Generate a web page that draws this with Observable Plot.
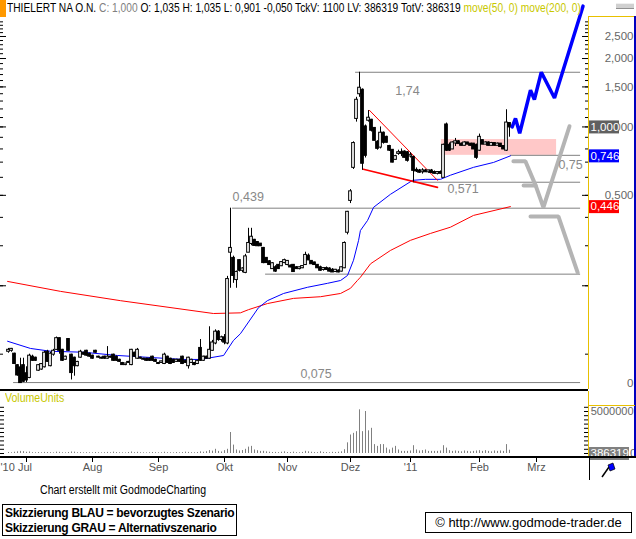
<!DOCTYPE html>
<html><head><meta charset="utf-8">
<script src="https://cdn.jsdelivr.net/npm/d3@7"></script>
<script src="https://cdn.jsdelivr.net/npm/@observablehq/plot@0.6"></script>
<style>
body{margin:0;background:#fff;}
#wrap{position:relative;width:636px;height:539px;overflow:hidden;font-family:"Liberation Sans",Arial,sans-serif;background:#fff;color:#000}
.a{position:absolute;white-space:nowrap}
svg{position:absolute;left:0}
</style></head><body><div id="wrap"></div>
<script>
// ---------- DATA ----------
const open = [
.103,.104,.100,.089,.087,.089,.082,.079,.097,.096,
.085,.086,.088,.102,.089,.100,.105,.117,.104,.095,
.116,.099,.096,.089,.097,.101,.103,.100,.098,.103,
.097,.096,.097,.096,.097,.099,.097,.094,.091,.090,
.092,.090,.101,.096,.096,.095,.095,.095,.097,.094,
.091,.092,.091,.097,.095,.094,.093,.094,.097,.093,
.089,.092,.091,.091,.106,.094,.097,.096,.104,.112,
.125,.116,.118,.112,.281,.264,.213,.258,.234,.229,
.281,.307,.317,.310,.305,.292,.264,.255,.238,.240,
.246,.245,.253,.248,.244,.246,.240,.238,.240,.248,
.270,.256,.252,.246,.240,.236,.238,.237,.234,.231,
.232,.232,.240,.344,.475,.664,1.09,1.40,1.45,1.00,
1.07,1.07,.985,.856,.815,.938,.900,.820,.789,.720,
.765,.770,.775,.770,.745,.735,.644,.640,.635,.640,
.635,.640,.630,.625,.630,.600,1.02,.830,.800,.850,
.860,.840,.830,.850,.840,.840,.830,.790,.870,.840,
.850,.830,.845,.830,.840,.820,.790,1.035];
const close = [
.104,.105,.091,.081,.075,.076,.077,.098,.094,.094,
.089,.090,.101,.093,.100,.103,.117,.104,.094,.097,
.104,.083,.089,.092,.102,.100,.099,.098,.096,.102,
.097,.096,.096,.097,.097,.094,.094,.093,.090,.0905,
.092,.104,.098,.104,.096,.095,.094,.094,.094,.093,
.091,.0925,.099,.092,.091,.092,.094,.093,.091,.092,
.096,.094,.090,.093,.094,.097,.096,.104,.112,.125,
.116,.118,.113,.213,.292,.222,.229,.234,.237,.268,
.307,.327,.301,.300,.300,.253,.253,.248,.250,.232,
.238,.253,.258,.256,.242,.231,.238,.240,.243,.272,
.260,.250,.248,.240,.234,.238,.236,.232,.230,.234,
.230,.240,.307,.421,.518,.845,1.31,1.48,.692,.750,
1.092,.967,.873,.805,.938,.856,.856,.790,.700,.740,
.770,.765,.735,.713,.750,.644,.640,.632,.640,.635,
.640,.630,.625,.630,.625,.830,.790,.790,.850,.860,
.845,.830,.850,.840,.830,.800,.735,.900,.840,.850,
.830,.845,.830,.840,.820,.800,1.040,1.000];
const high = [
.106,.106,.101,.090,.096,.096,.088,.100,.099,.097,
.090,.091,.103,.104,.102,.105,.119,.118,.105,.098,
.117,.100,.097,.093,.104,.102,.104,.101,.099,.104,
.098,.097,.098,.108,.098,.100,.098,.095,.092,.091,
.093,.105,.102,.106,.097,.096,.096,.096,.098,.095,
.092,.093,.101,.098,.096,.095,.095,.095,.098,.094,
.097,.095,.092,.094,.116,.098,.098,.132,.115,.128,
.127,.120,.122,.220,.439,.270,.232,.260,.240,.275,
.358,.358,.320,.312,.306,.295,.266,.258,.253,.245,
.248,.255,.262,.258,.247,.248,.243,.242,.245,.281,
.276,.258,.254,.248,.244,.240,.242,.240,.238,.236,
.235,.242,.312,.425,.530,.860,1.35,1.74,1.47,1.02,
1.18,1.08,.990,.870,1.00,.950,.910,.830,.795,.750,
.790,.800,.785,.780,.770,.740,.660,.650,.655,.650,
.645,.650,.640,.635,.640,.840,1.04,.850,.860,.890,
.870,.850,.860,.855,.845,.845,.840,.930,.875,.860,
.860,.855,.850,.850,.845,.825,1.19,1.035];
const low = [
.101,.102,.090,.080,.075,.075,.075,.078,.093,.093,
.084,.085,.087,.092,.088,.098,.104,.100,.093,.094,
.103,.077,.080,.088,.096,.099,.098,.097,.095,.101,
.096,.095,.095,.095,.096,.093,.093,.092,.090,.089,
.091,.089,.097,.095,.095,.094,.093,.093,.093,.092,
.090,.091,.090,.091,.090,.091,.092,.092,.090,.091,
.086,.091,.089,.090,.093,.093,.095,.095,.103,.110,
.114,.113,.110,.110,.195,.205,.195,.230,.228,.226,
.280,.300,.300,.299,.298,.250,.252,.246,.238,.229,
.236,.243,.250,.245,.240,.230,.236,.235,.238,.246,
.258,.249,.246,.238,.232,.232,.234,.230,.229,.229,
.228,.230,.238,.335,.460,.650,1.05,1.35,.644,.730,
1.05,.950,.870,.790,.800,.840,.850,.780,.695,.715,
.750,.740,.730,.700,.730,.571,.630,.625,.620,.630,
.625,.625,.620,.615,.620,.600,.780,.780,.795,.820,
.840,.825,.825,.835,.825,.795,.720,.780,.835,.835,
.825,.825,.825,.830,.815,.795,.780,.901];
const volume = [
120e3,90e3,150e3,200e3,250e3,220e3,150e3,180e3,100e3,90e3,
110e3,90e3,130e3,120e3,100e3,80e3,160e3,140e3,90e3,80e3,
120e3,180e3,160e3,90e3,110e3,80e3,100e3,90e3,80e3,120e3,
90e3,80e3,100e3,130e3,90e3,160e3,110e3,90e3,80e3,70e3,
120e3,180e3,100e3,140e3,90e3,80e3,70e3,90e3,120e3,100e3,
80e3,90e3,150e3,100e3,90e3,80e3,120e3,90e3,110e3,160e3,
130e3,100e3,90e3,120e3,200e3,150e3,220e3,350e3,280e3,500e3,
250e3,180e3,340e3,500e3,2500e3,1000e3,420e3,300e3,350e3,500e3,
760e3,850e3,420e3,330e3,250e3,260e3,200e3,150e3,120e3,130e3,
100e3,150e3,200e3,120e3,110e3,160e3,100e3,90e3,130e3,260e3,
200e3,150e3,110e3,100e3,210e3,130e3,110e3,90e3,140e3,120e3,
150e3,200e3,450e3,1270e3,2200e3,2400e3,2600e3,5200e3,2600e3,5000e3,
2700e3,3000e3,1060e3,850e3,1060e3,1060e3,640e3,420e3,640e3,850e3,
420e3,250e3,250e3,250e3,300e3,930e3,420e3,300e3,340e3,420e3,
250e3,250e3,250e3,250e3,300e3,930e3,640e3,340e3,250e3,300e3,
250e3,200e3,300e3,250e3,200e3,250e3,300e3,340e3,250e3,340e3,
250e3,200e3,300e3,250e3,300e3,250e3,1060e3,386319];

const ma50Day = [-0.3,7.3,14,25,36.3,47.3,58.3,64,71.7,75,77.3,83.3,86.3,91.7,99.7,106.3,110.7,113,115,116.7,117.3,119.7,121.7,127.3,134.7,139,144,147.3,155,161.7,167.3];
const ma50Val = [.114,.106,.103,.102,.0987,.0967,.0948,.0948,.0987,.115,.123,.160,.172,.185,.197,.205,.211,.222,.259,.317,.350,.388,.443,.505,.582,.588,.588,.613,.664,.698,.746];
const ma200Day = [-0.3,17.3,37.3,68.3,77.3,80,86.3,95,104,110.7,114,116.3,117.3,120.7,127.3,134,140.7,147.3,155,167.3];
const ma200Val = [.209,.189,.172,.151,.152,.157,.167,.176,.179,.185,.195,.211,.218,.250,.286,.317,.340,.362,.408,.446];

const levelVal   = [1.74, 0.439, 0.571, 0.75, 0.225, 0.075];
const levelStart = [115.7, 74.7, 135, 167.3, 85.7, 1.7];
const levelEnd   = [190.7, 190.7, 190.7, 190.7, 190.7, 190.7];
const levelText  = ["1,74", "0,439", "0,571", "0,75", "", "0,075"];
const levelTextDay = [133, 74.7, 146.3, 183.3, 0, 97.3];

const zoneDay = [144.3, 182.7];
const zoneVal = [0.75, 0.88];

const trendUpperDay = [120.3, 143], trendUpperVal = [1.184, 0.582];
const trendLowerDay = [118.3, 143], trendLowerVal = [0.651, 0.542];

const blueDay = [167.9, 169, 170.4, 174, 175.3, 177.6, 182, 191.5];
const blueVal = [1.0, 1.09, 0.938, 1.45, 1.32, 1.74, 1.34, 3.4];
const grayPaths = [
  {day: [168.3, 172.3, 175.7], val: [0.706, 0.706, 0.553]},
  {day: [171.7, 175.7, 178.3, 187], val: [0.553, 0.553, 0.443, 1.007]},
  {day: [174, 183.3, 189.7], val: [0.404, 0.404, 0.229]}
];

const yTickVal = [2.5, 2, 1.5, 1, 0.5, 0.0743];
const yTickText = ["2,500", "2,000", "1,500", "1,000", "0,500", "0"];
const yMinor = [0.1,0.2,0.3,0.4,0.5,0.6,0.7,0.8,0.9,1.0,1.1,1.2,1.3,1.4,1.5,1.6,1.7,1.8,1.9,2.0,2.1,2.2,2.3,2.4,2.5,2.6,2.7,2.8,2.9];
const yMajor = [0.2, 0.5, 1.0, 1.5, 2.0, 2.5];
const lastBoxes = [{v: 1.000, t: "1,000", c: "#606060"}, {v: 0.746, t: "0,746", c: "#0000ff"}, {v: 0.446, t: "0,446", c: "#ff0000"}];

const volTicks = [0, 5e5, 1e6, 1.5e6, 2e6, 2.5e6, 3e6, 3.5e6, 4e6, 4.5e6, 5e6, 5.5e6];
const monthText = ["'10 Jul", "Aug", "Sep", "Okt", "Nov", "Dez", "'11", "Feb", "Mrz"];
const monthDay  = [6, 28, 50, 72, 93, 114, 134, 157, 176];

// ---------- BUILD ----------
const FONT = "Liberation Sans, Arial, sans-serif";
const candles = open.map((o, i) => ({i, o, h: high[i], l: low[i], c: close[i], v: volume[i]}));
const pts = (d, v) => d.map((x, k) => ({i: x, v: v[k]}));
const ma50 = pts(ma50Day, ma50Val), ma200 = pts(ma200Day, ma200Val);
const levels = levelVal.map((v, k) => ({v, i1: levelStart[k], i2: levelEnd[k], t: levelText[k], ti: levelTextDay[k]}));
const xScale = {domain: [-8/3, 580/3], range: [0, 588], axis: null};

const labelDy = [19, -11, 7, 10, 0, -9];
const labelAnchor = ["middle", "start", "start", "start", "start", "start"];

const main = Plot.plot({
  width: 636, height: 392, marginLeft: 0, marginRight: 48, marginTop: 18, marginBottom: 9,
  x: xScale,
  y: {type: "log", domain: [0.0743, 3], range: [383, 18], axis: null},
  color: {type: "identity"},
  style: {background: "transparent", fontFamily: FONT},
  marks: [
    Plot.rect([{}], {x1: () => zoneDay[0], x2: () => zoneDay[1], y1: () => zoneVal[0], y2: () => zoneVal[1], fill: "#ffc8c8"}),
    Plot.ruleY(levels, {y: "v", x1: "i1", x2: "i2", stroke: "#808080", strokeWidth: 1}),
    Plot.line(ma200, {x: "i", y: "v", stroke: "#ff0000", strokeWidth: 1}),
    Plot.line(ma50, {x: "i", y: "v", stroke: "#0000ff", strokeWidth: 1}),
    Plot.line(pts(trendUpperDay, trendUpperVal), {x: "i", y: "v", stroke: "#ff0000", strokeWidth: 1}),
    Plot.line(pts(trendLowerDay, trendLowerVal), {x: "i", y: "v", stroke: "#ff0000", strokeWidth: 1.6}),
    Plot.ruleX(candles, {x: "i", y1: "l", y2: "h", stroke: "#000", strokeWidth: 1}),
    Plot.rect(candles, {x1: d => d.i - 0.45, x2: d => d.i + 0.45, y1: "o", y2: "c",
      fill: d => d.c >= d.o ? "#ffffff" : "#000000", stroke: "#000", strokeWidth: 1, insetTop: -0.5, insetBottom: -0.5}),
    ...grayPaths.map(p => Plot.line(pts(p.day, p.val), {x: "i", y: "v", stroke: "#b4b4b4", strokeWidth: 4, strokeLinejoin: "miter"})),
    Plot.line(pts(blueDay, blueVal), {x: "i", y: "v", stroke: "#0000ff", strokeWidth: 3.5, strokeLinejoin: "miter"}),
    ...levels.map((d, k) => d.t ? Plot.text([d], {x: "ti", y: "v", text: "t", dy: labelDy[k], textAnchor: labelAnchor[k], fill: "#888", fontSize: 12.5, fontFamily: FONT}) : null).filter(Boolean),
    // left & right axis ticks
    Plot.tickY(yMinor, {y: d => d, insetLeft: 585, stroke: "#000"}),
    Plot.tickY(yMajor, {y: d => d, insetLeft: 582, stroke: "#000"}),
    Plot.tickY(yMinor, {y: d => d, insetRight: 585, stroke: "#000"}),
    Plot.tickY(yMajor, {y: d => d, insetRight: 582, stroke: "#000"}),
    Plot.text(yTickVal, {y: d => d, text: (d, k) => yTickText[k], frameAnchor: "right", textAnchor: "end", dx: 45, fill: "#666", fontSize: 11.5, fontFamily: FONT}),
    Plot.ruleY(lastBoxes, {y: "v", stroke: "c", strokeWidth: 13, insetLeft: 589, insetRight: -31}),
    Plot.text(lastBoxes, {y: "v", text: "t", frameAnchor: "right", textAnchor: "start", dx: 2, fill: "#fff", fontSize: 11.5, fontFamily: FONT})
  ]
});
main.style.top = "0px";

const vol = Plot.plot({
  width: 636, height: 90, marginLeft: 0, marginRight: 48, marginTop: 0, marginBottom: 0,
  x: xScale,
  y: {domain: [0, 5e6], range: [63, 21], axis: null},
  style: {background: "transparent", fontFamily: FONT},
  marks: [
    Plot.ruleX(candles, {x: "i", y1: 0, y2: "v", stroke: "#808080", strokeWidth: 1}),
    Plot.tickY(volTicks, {y: d => d, insetLeft: 584, stroke: "#000"}),
    Plot.tickY(volTicks, {y: d => d, insetRight: 584, stroke: "#000"}),
    Plot.text([5e6], {y: d => d, text: () => "5000000", frameAnchor: "right", textAnchor: "end", dx: 45, fill: "#666", fontSize: 11, fontFamily: FONT}),
    Plot.text([0], {y: d => d, text: () => "0", frameAnchor: "right", textAnchor: "end", dx: 48, fill: "#666", fontSize: 11.5, fontFamily: FONT}),
    Plot.ruleY([volume[volume.length - 1]], {y: 0, stroke: "#808080", strokeWidth: 13, insetLeft: 589, insetRight: -41}),
    Plot.text([volume[volume.length - 1]], {y: 0, text: d => String(d), frameAnchor: "right", textAnchor: "start", dx: 2, fill: "#fff", fontSize: 11.5, fontFamily: FONT}),
    Plot.tickX(monthDay, {x: d => d, insetTop: 68, insetBottom: 18, stroke: "#000"}),
    Plot.text(monthDay.slice(1), {x: d => d, text: (d, k) => monthText[k + 1], frameAnchor: "bottom", dy: -10, fill: "#555", fontSize: 11, fontFamily: FONT}),
    Plot.text(monthDay.slice(0, 1), {x: d => d, text: () => monthText[0], frameAnchor: "bottom", dy: -10, dx: -26, textAnchor: "start", fill: "#555", fontSize: 11, fontFamily: FONT})
  ]
});
vol.style.top = "390px";

const wrap = document.getElementById("wrap");
wrap.appendChild(main);
wrap.appendChild(vol);
wrap.insertAdjacentHTML("beforeend", `
<div class="a" style="left:0;top:0;width:6px;height:17px;background:#ff9900"></div>
<div class="a" style="left:7px;top:1px;font-size:12px;transform:scaleX(0.85);transform-origin:0 0">THIELERT NA O.N. <span style="color:#808080">C: 1,000</span> O: 1,035 H: 1,035 L: 0,901 -0,050 TckV: 1100 LV: 386319 TotV: 386319 <span style="color:#c8c800">move(50, 0) move(200, 0)</span></div>
<div class="a" style="left:616px;top:3px;width:18px;height:4px;background:#d0d0d0;border-top:1px solid #f0f0f0;border-bottom:1px solid #909090"></div>
<div class="a" style="left:588px;top:16px;width:47px;height:1px;background:#e8c000"></div>
<div class="a" style="left:588px;top:16px;width:1px;height:373px;background:#e8c000"></div>
<div class="a" style="left:634px;top:16px;width:2px;height:442px;background:#0000c0"></div>
<div class="a" style="left:0;top:389px;width:588px;height:2px;background:#000"></div>
<div class="a" style="left:5px;top:391px;font-size:12px;color:#c8c800;transform:scaleX(0.88);transform-origin:0 0">VolumeUnits</div>
<div class="a" style="left:588px;top:405px;width:47px;height:1px;background:#e8c000"></div>
<div class="a" style="left:588px;top:391px;width:1px;height:66px;background:#e8c000"></div>
<div class="a" style="left:0;top:456px;width:636px;height:2px;background:#000"></div>
<div class="a" style="left:589px;top:458px;width:1px;height:22px;background:#000"></div>
<svg style="left:600px;top:461px" width="20" height="18"><path d="M2,16 L9,6" stroke="#000" stroke-width="1.5"/><path d="M8,4 L13,2 L15,8 L10,10 Z" fill="#0000ff" stroke="#000" stroke-width="0.7"/></svg>
<div class="a" style="left:40px;top:483px;font-size:12px;transform:scaleX(0.88);transform-origin:0 0">Chart erstellt mit GodmodeCharting</div>
<div class="a" style="left:2px;top:504px;width:235px;height:32px;border:1px solid #000;font-size:12px;font-weight:bold;letter-spacing:-0.3px;line-height:15px;padding:1px 0 0 2px;box-sizing:border-box">Skizzierung BLAU = bevorzugtes Szenario<br>Skizzierung GRAU = Alternativszenario</div>
<div class="a" style="left:425px;top:512px;width:207px;height:21px;border:1px solid #000;font-size:13px;line-height:19px;text-align:center;box-sizing:border-box">© http://www.godmode-trader.de</div>
`);
</script></body></html>
